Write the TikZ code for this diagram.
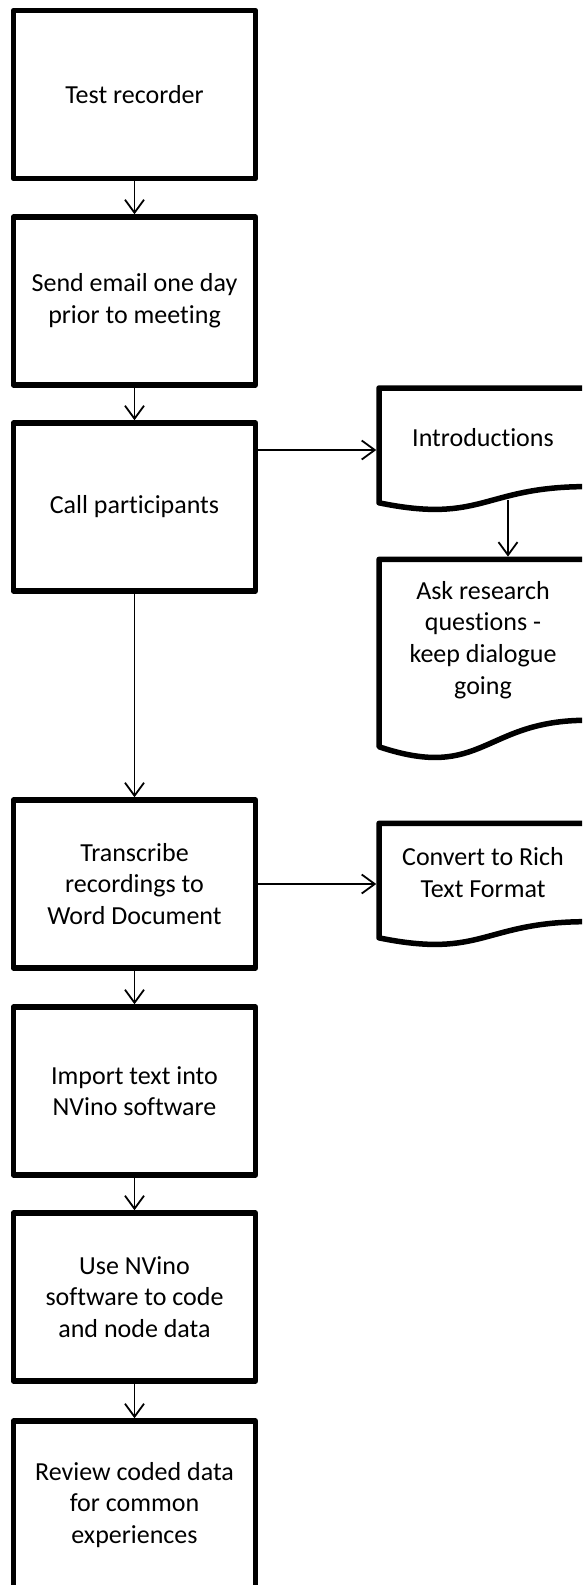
\documentclass[tikz,border=0pt]{standalone}
\usepackage{fontspec}
\setmainfont{Carlito}[RawFeature={-liga}]
\usetikzlibrary{arrows.meta,calc}

\begin{document}
\begin{tikzpicture}[x=1pt,y=-1pt,
  labelfont/.style={font=\fontsize{26}{31.7}\selectfont},
  stepbox/.style={draw, line width=5.5pt, line join=round, minimum width=242pt,
    minimum height=168pt, inner sep=0pt, align=center, labelfont},
  doctext/.style={inner sep=0pt, outer sep=0pt, minimum width=208pt, align=center, labelfont},
  docline/.style={line width=5.5pt, line join=round},
  flow/.style={line width=1.8pt, -{Straight Barb[length=13pt,width=19pt]}}]

\useasboundingbox (0,0) rectangle (582,1585);
\clip (0,0) rectangle (582,1585);

% main column of process steps
\node[stepbox] (rec)   at (134.5,94.5) {Test recorder};
\node[stepbox] (email) at (134.5,301)  {Send email one day\\prior to meeting};
\node[stepbox] (call)  at (134.5,507)  {Call participants};
\node[stepbox] (trans) at (134.5,884)  {Transcribe\\recordings to\\Word Document};
\node[stepbox] (imp)   at (134.5,1091) {Import text into\\NVino software};
\node[stepbox] (code)  at (134.5,1297) {Use NVino\\software to code\\and node data};
\node[stepbox] (rev)   at (134.5,1505) {Review coded data\\for common\\experiences};

% document shapes on the right (text area + wavy bottom edge)
\node[doctext, minimum height=98.6pt] (intro) at (483,437.3) {Introductions};
\draw[docline] (intro.north west) -- (intro.north east) -- (intro.south east)
  .. controls (intro.south) and ($(intro.south)+(0,37.6)$) .. ($(intro.south west)+(0,16.2)$) -- cycle;

\node[doctext, minimum height=160.9pt] (ask) at (483,639.8) {Ask research\\questions -\\keep dialogue\\going};
\draw[docline] (ask.north west) -- (ask.north east) -- (ask.south east)
  .. controls (ask.south) and ($(ask.south)+(0,61.3)$) .. ($(ask.south west)+(0,26.5)$) -- cycle;

\node[doctext, minimum height=98.3pt] (conv) at (483,872.5) {Convert to Rich\\Text Format};
\draw[docline] (conv.north west) -- (conv.north east) -- (conv.south east)
  .. controls (conv.south) and ($(conv.south)+(0,37.5)$) .. ($(conv.south west)+(0,16.2)$) -- cycle;

% connectors
\draw[flow] (rec.south) -- (email.north);
\draw[flow] (email.south) -- (call.north);
\draw[flow] (call.south) -- (trans.north);
\draw[flow] (trans.south) -- (imp.north);
\draw[flow] (imp.south) -- (code.north);
\draw[flow] (code.south) -- (rev.north);

\coordinate (introin) at ($(intro.west)+(0,12.7)$);
\draw[flow, shorten >=2.75pt] (call.east |- introin) -- (introin);

\coordinate (introfoot) at ($(intro.north west)+(129,112)$);
\draw[flow, shorten >=2.75pt] (introfoot) -- (introfoot |- ask.north);

\draw[flow, shorten >=2.75pt] (trans.east) -- (trans.east -| conv.west);

\end{tikzpicture}
\end{document}
